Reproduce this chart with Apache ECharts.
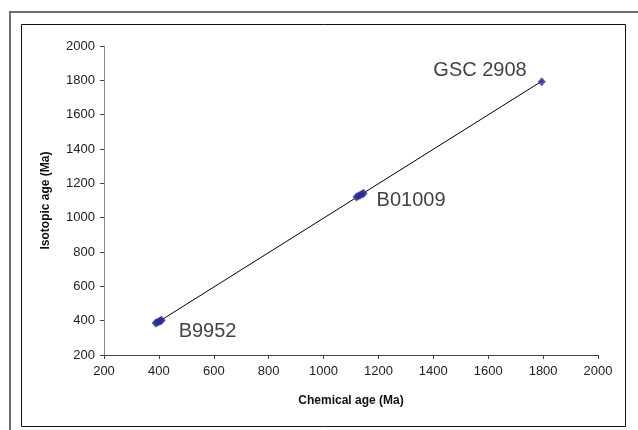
<!DOCTYPE html>
<html>
<head>
<meta charset="utf-8">
<script src="https://cdn.jsdelivr.net/npm/echarts@6/dist/echarts.min.js"></script>
<style>
  html, body { margin: 0; padding: 0; background: #fff; }
  #chart { width: 638px; height: 430px; }
</style>
</head>
<body>
<div id="chart"></div>
<script>
// samples: chemical age vs isotopic age (Ma)
const sampleNames = ['B9952', 'B01009', 'GSC 2908']
const b9952Chem = [388, 394, 400, 406, 410]
const b9952Iso = [386, 390, 395, 400, 403]
const b01009Chem = [1120, 1127, 1134, 1141, 1146]
const b01009Iso = [1120, 1126, 1132, 1138, 1142]
const gscChem = [1795]
const gscIso = [1792]

// trendline end points
const trendChem = [400, 1800]
const trendIso = [395, 1800]

const markColor = '#2b2d8e'

const chart = echarts.init(document.getElementById('chart'))

function pairs(xs, ys) {
  return xs.map((x, i) => [x, ys[i]])
}

function sampleSeries(name, xs, ys, label) {
  const data = pairs(xs, ys)
  return {
    name,
    type: 'scatter',
    symbol: 'diamond',
    symbolSize: [8, 9],
    itemStyle: { color: markColor },
    data: data.map((d, i) => ({
      value: d,
      label: i === data.length - 1 ? label : { show: false }
    })),
    z: 3
  }
}

const labelFont = { fontFamily: 'Liberation Sans, Arial', fontSize: 20, color: '#111' }
const tickFont = { fontFamily: 'Liberation Sans, Arial', fontSize: 13, color: '#222' }

chart.setOption({
  animation: false,
  grid: { left: 104, right: 40, top: 46, bottom: 75 },
  xAxis: {
    type: 'value',
    min: 200,
    max: 2000,
    interval: 200,
    name: 'Chemical age (Ma)',
    nameLocation: 'middle',
    nameGap: 40,
    nameTextStyle: { fontFamily: 'Liberation Sans, Arial', fontWeight: 'bold', fontSize: 12, color: '#111' },
    axisLine: { onZero: false, lineStyle: { color: '#444', width: 1 } },
    axisTick: { length: 4, lineStyle: { color: '#444' } },
    axisLabel: { ...tickFont, margin: 10, formatter: v => String(v) },
    splitLine: { show: false }
  },
  yAxis: {
    type: 'value',
    min: 200,
    max: 2000,
    interval: 200,
    name: 'Isotopic age (Ma)',
    nameLocation: 'middle',
    nameGap: 52,
    nameTextStyle: { fontFamily: 'Liberation Sans, Arial', fontWeight: 'bold', fontSize: 12, color: '#111' },
    axisLine: { show: true, onZero: false, lineStyle: { color: '#888', width: 1 } },
    axisTick: { show: true, length: 4, lineStyle: { color: '#444' } },
    axisLabel: { ...tickFont, margin: 9, formatter: v => String(v) },
    splitLine: { show: false }
  },
  graphic: [
    {
      type: 'rect',
      shape: { x: 10, y: 12, width: 640, height: 430 },
      style: { fill: 'none', stroke: '#6e6e6e', lineWidth: 2 },
      silent: true
    },
    {
      type: 'rect',
      shape: { x: 21.5, y: 24.5, width: 604, height: 402 },
      style: { fill: 'none', stroke: '#111', lineWidth: 1 },
      silent: true
    }
  ],
  series: [
    {
      name: 'trend',
      type: 'line',
      data: pairs(trendChem, trendIso),
      showSymbol: false,
      lineStyle: { color: '#000', width: 1 },
      z: 2
    },
    sampleSeries(sampleNames[0], b9952Chem, b9952Iso, {
      show: true, formatter: sampleNames[0], position: 'right', offset: [8, 11], ...labelFont
    }),
    sampleSeries(sampleNames[1], b01009Chem, b01009Iso, {
      show: true, formatter: sampleNames[1], position: 'right', offset: [4, 7], ...labelFont
    }),
    sampleSeries(sampleNames[2], gscChem, gscIso, {
      show: true, formatter: sampleNames[2], position: 'left', offset: [-6, -11], ...labelFont
    })
  ]
})
</script>
</body>
</html>
